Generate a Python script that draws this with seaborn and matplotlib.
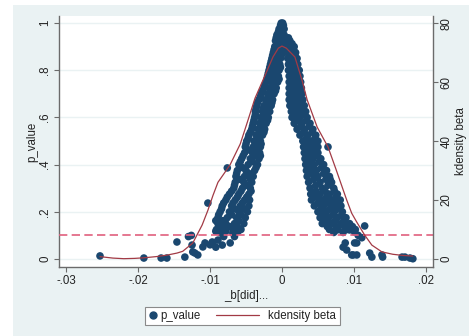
import numpy as np
import pandas as pd
import matplotlib
matplotlib.use("Agg")
import matplotlib.pyplot as plt
from matplotlib.patches import Rectangle
from matplotlib.lines import Line2D
from matplotlib.legend_handler import HandlerBase
import seaborn as sns

# ---------------- data ----------------
# left arm of the scatter: one p-value level per row, betas at that level
left_p = [1.00, 0.99, 0.975, 0.95, 0.925, 0.90, 0.875, 0.85, 0.825, 0.80,
          0.775, 0.75, 0.725, 0.70, 0.675, 0.65, 0.625, 0.60, 0.575, 0.55,
          0.525, 0.50, 0.475, 0.45, 0.425, 0.40, 0.386, 0.375, 0.35, 0.325,
          0.30, 0.275, 0.25, 0.237, 0.225, 0.20, 0.175, 0.15, 0.125, 0.11]
left_beta = [
    [-0.0001, 0.0001], [-0.0002, 0.0002], [-0.0004, 0.0001, 0.0003],
    [-0.0007, -0.0002, 0.0003], [-0.0009, -0.0004], [-0.0010, -0.0004, 0.0001],
    [-0.0012, -0.0006, 0.0000], [-0.0014, -0.0008, -0.0002], [-0.0016, -0.0010, -0.0003],
    [-0.0018, -0.0011, -0.0004], [-0.0020, -0.0013, -0.0005], [-0.0022, -0.0014, -0.0006],
    [-0.0025, -0.0017, -0.0008], [-0.0029, -0.0020, -0.0011], [-0.0032, -0.0023, -0.0013],
    [-0.0035, -0.0025, -0.0015], [-0.0037, -0.0027, -0.0017], [-0.0038, -0.0029, -0.0019],
    [-0.0040, -0.0031, -0.0022], [-0.0042, -0.0033, -0.0024], [-0.0046, -0.0036, -0.0027],
    [-0.0049, -0.0039, -0.0030], [-0.0051, -0.0040, -0.0030], [-0.0052, -0.0041, -0.0031],
    [-0.0056, -0.0044, -0.0032], [-0.0060, -0.0047, -0.0034], [-0.0076],
    [-0.0062, -0.0050, -0.0038], [-0.0064, -0.0052, -0.0040], [-0.0065, -0.0053, -0.0042],
    [-0.0067, -0.0055, -0.0044], [-0.0073, -0.0060, -0.0046],
    [-0.0078, -0.0065, -0.0052, -0.0045], [-0.0103],
    [-0.0083, -0.0070, -0.0058, -0.0046], [-0.0086, -0.0073, -0.0060, -0.0048],
    [-0.0089, -0.0076, -0.0063, -0.0051], [-0.0089, -0.0078, -0.0066, -0.0053],
    [-0.0091, -0.0080, -0.0068, -0.0057], [-0.0085, -0.0068],
]
# in-between rows of the left arm
left_mid_p = [0.9625, 0.9375, 0.9125, 0.8875, 0.8625, 0.8375, 0.8125, 0.7875,
              0.7625, 0.7375, 0.7125, 0.6875, 0.6625, 0.6375, 0.6125, 0.5875,
              0.5625, 0.5375, 0.5125, 0.4875, 0.4625, 0.4375, 0.4125, 0.3875,
              0.3625, 0.3375, 0.3125, 0.2875, 0.2625, 0.2375, 0.2125, 0.1875,
              0.1625, 0.1375, 0.1175, 0.095]
left_mid_beta = [
    [-0.0005, 0.0000], [-0.0008, -0.0001], [-0.0007, -0.0001], [-0.0011, -0.0003],
    [-0.0013, -0.0005, -0.0001], [-0.0015, -0.0007], [-0.0017, -0.0008, -0.0002],
    [-0.0019, -0.0009], [-0.0021, -0.0010, -0.0004], [-0.0024, -0.0012],
    [-0.0027, -0.0015, -0.0009], [-0.0030, -0.0018], [-0.0034, -0.0021, -0.0014],
    [-0.0036, -0.0026, -0.0019], [-0.0037, -0.0024], [-0.0039, -0.0027, -0.0020],
    [-0.0041, -0.0029], [-0.0044, -0.0031, -0.0025], [-0.0047, -0.0034],
    [-0.0050, -0.0035, -0.0029], [-0.0047, -0.0035], [-0.0054, -0.0038, -0.0030],
    [-0.0058, -0.0041], [-0.0055, -0.0036], [-0.0063, -0.0046], [-0.0058, -0.0044],
    [-0.0066, -0.0049], [-0.0070, -0.0057, -0.0043], [-0.0076, -0.0062, -0.0049],
    [-0.0081, -0.0068, -0.0055], [-0.0084, -0.0066, -0.0053], [-0.0088, -0.0070, -0.0057],
    [-0.0092, -0.0082, -0.0060], [-0.0086, -0.0073, -0.0062], [-0.0092, -0.0078, -0.0061],
    [-0.0081, -0.0066],
]

# right arm of the scatter
right_p = [0.925, 0.90, 0.875, 0.85, 0.825, 0.80, 0.775, 0.75, 0.725, 0.70,
           0.675, 0.65, 0.625, 0.60, 0.575, 0.55, 0.525, 0.50, 0.475, 0.45,
           0.425, 0.40, 0.375, 0.35, 0.325, 0.30, 0.275, 0.25, 0.225, 0.20,
           0.175, 0.15, 0.14, 0.131, 0.125, 0.123, 0.114, 0.10, 0.09]
right_beta = [
    [0.0005, 0.0011], [0.0006, 0.0012, 0.0017], [0.0007, 0.0014, 0.0019],
    [0.0008, 0.0015, 0.0021], [0.0009, 0.0016, 0.0022], [0.0009, 0.0017, 0.0024],
    [0.0010, 0.0018, 0.0025], [0.0010, 0.0019, 0.0026], [0.0010, 0.0019, 0.0027],
    [0.0010, 0.0019, 0.0028], [0.0010, 0.0020, 0.0029], [0.0011, 0.0021, 0.0031],
    [0.0013, 0.0023, 0.0033], [0.0014, 0.0025, 0.0035], [0.0017, 0.0028, 0.0039],
    [0.0021, 0.0032, 0.0043], [0.0025, 0.0036, 0.0047], [0.0029, 0.0040, 0.0050],
    [0.0030, 0.0041, 0.0050, 0.0064], [0.0031, 0.0041, 0.0050],
    [0.0032, 0.0043, 0.0054], [0.0033, 0.0045, 0.0058], [0.0034, 0.0048, 0.0062],
    [0.0035, 0.0050, 0.0066], [0.0037, 0.0053, 0.0069], [0.0039, 0.0056, 0.0072],
    [0.0040, 0.0053, 0.0066, 0.0077], [0.0041, 0.0055, 0.0069, 0.0081],
    [0.0045, 0.0058, 0.0071, 0.0082], [0.0050, 0.0062, 0.0073, 0.0084],
    [0.0053, 0.0065, 0.0077, 0.0089], [0.0056, 0.0069, 0.0082, 0.0094],
    [0.0115], [0.0092], [0.0066, 0.0078, 0.0090, 0.0102], [0.0076, 0.0094],
    [0.0101], [0.0106], [0.0111],
]
# in-between rows of the right arm
right_mid_p = [0.9375, 0.9125, 0.8875, 0.8625, 0.8375, 0.8125, 0.7875, 0.7625,
               0.7375, 0.7125, 0.6875, 0.6625, 0.6375, 0.6125, 0.5875, 0.5625,
               0.5375, 0.5125, 0.4875, 0.4625, 0.4375, 0.4125, 0.3875, 0.3625,
               0.3375, 0.3125, 0.2875, 0.2625, 0.2375, 0.2125, 0.1875, 0.1625,
               0.1375, 0.1125]
right_mid_beta = [
    [0.0004, 0.0009], [0.0008, 0.0014], [0.0010, 0.0016], [0.0011, 0.0018],
    [0.0012, 0.0019], [0.0013, 0.0020], [0.0013, 0.0022], [0.0014, 0.0023],
    [0.0014, 0.0024], [0.0014, 0.0024], [0.0015, 0.0025], [0.0015, 0.0026],
    [0.0017, 0.0028], [0.0019, 0.0031], [0.0022, 0.0034], [0.0026, 0.0038],
    [0.0030, 0.0042], [0.0034, 0.0046], [0.0035, 0.0045], [0.0036, 0.0046],
    [0.0037, 0.0048], [0.0039, 0.0052], [0.0040, 0.0055], [0.0042, 0.0058],
    [0.0044, 0.0061, 0.0067], [0.0047, 0.0064], [0.0047, 0.0060, 0.0073],
    [0.0048, 0.0062, 0.0075], [0.0050, 0.0063, 0.0076], [0.0054, 0.0067, 0.0079],
    [0.0058, 0.0071, 0.0083], [0.0061, 0.0074, 0.0086],
    [0.0063, 0.0075, 0.0087, 0.0098], [0.0072, 0.0085],
]

# tails (low p-values)
tail_beta = [-0.0253, -0.0192, -0.0168, -0.0160, -0.0146, -0.0135, -0.0130, -0.0126,
             -0.0124, -0.0117, -0.0110, -0.0125, -0.0121, -0.0107, -0.0097, -0.0083,
             -0.0072, -0.0068, -0.0096, -0.0089, -0.0100, -0.0092, 0.0085, 0.0090,
             0.0088, 0.0101, 0.0104, 0.0099, 0.0104, 0.0097, 0.0122, 0.0125,
             0.0139, 0.0140, 0.0167, 0.0171, 0.0178, 0.0182]
tail_p = [0.013, 0.004, 0.004, 0.004, 0.072, 0.008, 0.095, 0.100,
          0.030, 0.017, 0.051, 0.059, 0.025, 0.068, 0.072, 0.059,
          0.068, 0.110, 0.068, 0.080, 0.060, 0.050, 0.050, 0.038,
          0.068, 0.068, 0.068, 0.017, 0.017, 0.017, 0.025, 0.008,
          0.017, 0.008, 0.008, 0.008, 0.004, 0.001]

# kernel density of beta (right axis)
kde_beta = [-0.0253, -0.0235, -0.0220, -0.0205, -0.0192, -0.0175, -0.0160, -0.0146,
            -0.0138, -0.0124, -0.0111, -0.0103, -0.0096, -0.0089, -0.0079, -0.0072,
            -0.0058, -0.0048, -0.00375, -0.0024, -0.00125, -0.0005, 0.0000, 0.0006,
            0.0018, 0.0028, 0.0035, 0.0049, 0.0064, 0.0075, 0.0085, 0.0090,
            0.0097, 0.0104, 0.0115, 0.0125, 0.0139, 0.0154, 0.0168, 0.0182]
kde_density = [0.8, 0.3, 0.1, 0.2, 0.4, 0.8, 1.3, 2.0,
               2.6, 5.4, 11.5, 16.5, 21.5, 26.0, 29.5, 32.0,
               39.0, 46.5, 54.5, 62.0, 68.5, 71.5, 72.2, 71.5,
               68.5, 60.5, 54.0, 44.7, 38.0, 30.5, 23.5, 20.0,
               15.5, 12.5, 8.1, 4.7, 2.4, 1.6, 1.2, 1.0]

x_ticks = [-0.03, -0.02, -0.01, 0.0, 0.01, 0.02]
x_tick_labels = ["-.03", "-.02", "-.01", "0", ".01", ".02"]
y_ticks = [0, 0.2, 0.4, 0.6, 0.8, 1.0]
y_tick_labels = ["0", ".2", ".4", ".6", ".8", "1"]
y2_ticks = [0, 20, 40, 60, 80]
y2_tick_labels = ["0", "20", "40", "60", "80"]
threshold = 0.1

# ---------------- build table ----------------
all_p = left_p + left_mid_p + right_p + right_mid_p
all_rows = left_beta + left_mid_beta + right_beta + right_mid_beta
assert len(all_p) == len(all_rows)
assert len(tail_beta) == len(tail_p)
bx, py = [], []
for p, row in zip(all_p, all_rows):
    for b in row:
        bx.append(b)
        py.append(p)
bx += tail_beta
py += tail_p
df = pd.DataFrame({"beta": bx, "p_value": py})
kde_df = pd.DataFrame({"beta": kde_beta, "density": kde_density})

# ---------------- style ----------------
sns.set_style("white")
plt.rcParams["font.family"] = ["Liberation Sans", "DejaVu Sans"]

navy = "#1A476F"
maroon = "#A23A45"
pink = "#E0607E"
bg = "#EAF2F3"
axis_col = "#6b6b6b"
text_col = "#222222"
fs = 8.3

W, H = 469, 336
fig = plt.figure(figsize=(W / 100, H / 100), dpi=100)
fig.patch.set_facecolor("white")
fig.patches.append(Rectangle((13 / W, 0), 1 - 13 / W, 1 - 5 / H,
                             transform=fig.transFigure, facecolor=bg,
                             edgecolor="none", zorder=-10))

ax = fig.add_axes([59 / W, 1 - 267 / H, 374 / W, 251 / H])
ax.set_facecolor("white")

sns.scatterplot(data=df, x="beta", y="p_value", ax=ax, color=navy, s=30,
                edgecolor="none", linewidth=0, legend=False, zorder=3)
ax.axhline(threshold, color=pink, lw=1.2, dashes=(5, 2.6), zorder=4)

ax.set_xlim(-0.031, 0.021)
ax.set_ylim(-0.034, 1.03)
ax.set_xticks(x_ticks)
ax.set_xticklabels(x_tick_labels)
ax.set_yticks(y_ticks)
ax.set_yticklabels(y_tick_labels)
ax.grid(axis="y", color=bg, lw=1.0)
ax.set_axisbelow(True)

ax2 = ax.twinx()
sns.lineplot(data=kde_df, x="beta", y="density", ax=ax2, color=maroon,
             lw=0.9, sort=False, legend=False)
ax2.set_ylim(-0.034 * 80, 1.03 * 80)
ax2.set_yticks(y2_ticks)
ax2.set_yticklabels(y2_tick_labels)
ax.set_xlim(-0.031, 0.021)

for a in (ax, ax2):
    for s in a.spines.values():
        s.set_visible(False)
for s in ("left", "bottom"):
    ax.spines[s].set_visible(True)
    ax.spines[s].set_color(axis_col)
    ax.spines[s].set_linewidth(1.0)
ax2.spines["right"].set_visible(True)
ax2.spines["right"].set_color(axis_col)
ax2.spines["right"].set_linewidth(1.0)

for a in (ax, ax2):
    a.tick_params(axis="both", direction="out", length=3.5, width=0.8,
                  color=axis_col, labelsize=fs, labelcolor=text_col, pad=2)
ax.tick_params(axis="y", left=True, right=False)
ax.tick_params(axis="x", bottom=True)
ax2.tick_params(axis="y", right=True, left=False)
for lab in ax.get_yticklabels():
    lab.set_rotation(90)
    lab.set_va("center")
for lab in ax2.get_yticklabels():
    lab.set_rotation(90)
    lab.set_va("center")

ax.set_xlabel("_b[did]...", fontsize=fs, color=text_col)
ax.set_ylabel("p_value", fontsize=fs, color=text_col)
ax2.set_ylabel("kdensity beta", fontsize=fs, color=text_col)
ax.xaxis.set_label_coords(0.5, -0.09)
ax.yaxis.set_label_coords(-0.055, 0.5)
ax2.yaxis.set_label_coords(1.06, 0.5)


class HandlerLongLine(HandlerBase):
    """Line key that reaches back into the column gap (Stata-style legend)."""

    def create_artists(self, legend, orig_handle, xdescent, ydescent,
                       width, height, fontsize, trans):
        y = height / 2 - ydescent
        x_end = width - xdescent - 4.5
        x_start = x_end - 31.0
        ln = Line2D([x_start, x_end], [y, y], color=orig_handle.get_color(),
                    lw=orig_handle.get_linewidth())
        ln.set_transform(trans)
        return [ln]


marker_key = Line2D([], [], marker="o", ls="none", color=navy, markersize=5)
line_key = Line2D([], [], color=maroon, lw=0.9)
leg = fig.legend([marker_key, line_key], ["p_value", "kdensity beta"], ncol=2,
                 loc="center left", bbox_to_anchor=(145 / W, 1 - 316 / H),
                 borderaxespad=0, frameon=True, fancybox=False,
                 edgecolor="#8a8a8a", facecolor="white", framealpha=1,
                 fontsize=fs, handlelength=0.8, columnspacing=4.8,
                 borderpad=0.3, handletextpad=0.25,
                 handler_map={line_key: HandlerLongLine()})
leg.get_frame().set_linewidth(0.8)
for t in leg.get_texts():
    t.set_color(text_col)

fig.savefig("out.png", dpi=100, facecolor=fig.get_facecolor())
